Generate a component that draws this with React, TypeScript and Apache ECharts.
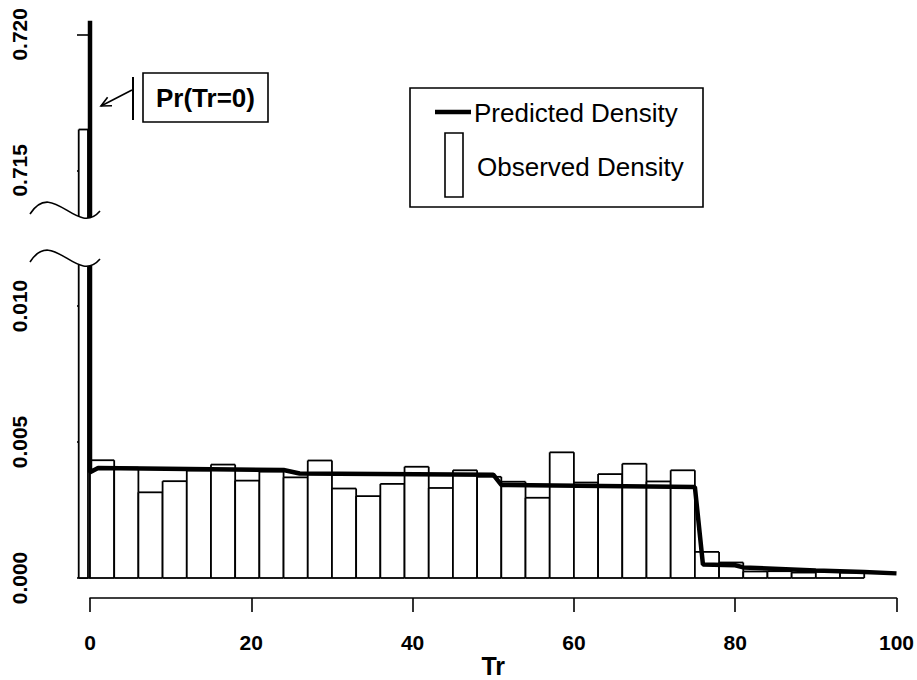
import React, { useEffect, useRef } from "react";
import * as echarts from "echarts";

// ---------------- data ----------------
const binStarts = [0, 3, 6, 9, 12, 15, 18, 21, 24, 27, 30, 33, 36, 39, 42, 45, 48, 51, 54, 57, 60, 63, 66, 69, 72, 75, 78, 81, 84, 87, 90, 93];
const BIN_WIDTH = 3;
const observedDensity = [
  0.00433, 0.00406, 0.00315, 0.00356, 0.00395, 0.00417, 0.00358, 0.00391, 0.0037, 0.00432,
  0.00329, 0.00301, 0.00346, 0.00409, 0.00331, 0.00396, 0.00372, 0.00354, 0.00295, 0.00462,
  0.00351, 0.00382, 0.0042, 0.00355, 0.00396, 0.00096, 0.00057, 0.00024, 0.00025, 0.0002,
  0.00023, 0.0002,
];
// point mass at Tr = 0
const zeroObserved = 0.7165;
const zeroPredicted = 0.7205;
const zeroBarRange = [-1.4, -0.25];
// predicted density curve
const predTr = [0, 0, 1, 24, 26, 50, 51, 75, 76, 80, 81, 90, 96, 100];
const predDensity = [zeroPredicted, 0.00389, 0.00404, 0.00397, 0.00384, 0.0038, 0.00342, 0.00335, 0.0005, 0.00047, 0.00039, 0.00028, 0.00022, 0.00017];
const xTicks = [0, 20, 40, 60, 80, 100];
const topTicks = [0.715, 0.72];
const bottomTicks = [0, 0.005, 0.01];

// ---------------- layout ----------------
const X0_PX = 90;
const PX_PER_TR = 8.065;
const XMIN = -2;
const XMAX = 102;
const GRID_LEFT = X0_PX + XMIN * PX_PER_TR;
const GRID_WIDTH = (XMAX - XMIN) * PX_PER_TR;
const PX_PER_UNIT_Y = 27200;
const Y720_PX = 34.3;
const A_TOP = 18, A_BOTTOM = 218;
const B_TOP = Y720_PX, B_BOTTOM = 205;
const BASE_PX = 578;
const C_MAX = 0.012;
const C_TOP = BASE_PX - C_MAX * PX_PER_UNIT_Y;
const AXIS_X_PX = 48;
const FONT = "'Liberation Sans', Arial, Helvetica, sans-serif";

const valAtPx = (px: number) => 0.72 - (px - Y720_PX) / PX_PER_UNIT_Y;

function histRender(lw: number) {
  return (params: any, api: any) => {
    const x0 = api.value(0), x1 = api.value(1), v = api.value(2);
    const pTop = api.coord([x0, v]);
    const pBot = api.coord([x1, 0]);
    const cs = params.coordSys;
    const left = pTop[0], right = pBot[0];
    let top = pTop[1], bottom = pBot[1];
    const clipTop = top < cs.y - 0.5;
    const clipBottom = bottom > cs.y + cs.height + 0.5;
    top = Math.max(top, cs.y);
    bottom = Math.min(bottom, cs.y + cs.height);
    if (bottom <= top) return null;
    const st = { stroke: "#000", lineWidth: lw };
    const children: any[] = [
      { type: "rect", shape: { x: left, y: top, width: right - left, height: bottom - top }, style: { fill: "#fff" } },
      { type: "line", shape: { x1: left, y1: top, x2: left, y2: bottom }, style: st },
      { type: "line", shape: { x1: right, y1: top, x2: right, y2: bottom }, style: st },
    ];
    if (!clipTop) children.push({ type: "line", shape: { x1: left, y1: top, x2: right, y2: top }, style: st });
    if (!clipBottom) children.push({ type: "line", shape: { x1: left, y1: bottom, x2: right, y2: bottom }, style: st });
    return { type: "group", children };
  };
}

function bez(p: number[][], t: number) {
  const u = 1 - t;
  const a = u * u * u, b = 3 * u * u * t, c = 3 * u * t * t, d = t * t * t;
  return [a * p[0][0] + b * p[1][0] + c * p[2][0] + d * p[3][0], a * p[0][1] + b * p[1][1] + c * p[2][1] + d * p[3][1]];
}

export default function App() {
  const ref = useRef<HTMLDivElement>(null);
  useEffect(() => {
    if (!ref.current) return;
    const chart = echarts.init(ref.current, null, { renderer: "svg" });

    const histData = binStarts.map((s, i) => [s, s + BIN_WIDTH, observedDensity[i]]);
    histData.push([zeroBarRange[0], zeroBarRange[1], zeroObserved]);
    const predData = predTr.map((x, i) => [x, predDensity[i]]);

    const hiddenX = (gi: number) => ({ type: "value", gridIndex: gi, min: XMIN, max: XMAX, show: false });
    const axisLineStyle = { show: true, lineStyle: { color: "#000", width: 1.6 } };
    const tickStyle = { show: true, length: 13, lineStyle: { color: "#000", width: 1.6 } };
    const yLabel = (vals: number[]) => ({
      show: true, rotate: 90, margin: 18, customValues: vals,
      formatter: (v: number) => v.toFixed(3),
      color: "#000", fontSize: 21, fontWeight: "bold", fontFamily: FONT,
    });

    // break waves
    const waveBottom = [[30, 262], [53, 226], [77, 286], [100, 259]];
    const waveTop = [[30, 214], [53, 178], [77, 238], [100, 211]];
    const coverPts = (w: number[][], yEdge: number) => {
      const pts: number[][] = [];
      for (let i = 0; i <= 30; i++) pts.push(bez(w, 0.4 + (0.6 * i) / 30));
      pts.push([pts[pts.length - 1][0] + 2, yEdge]);
      pts.push([pts[0][0], yEdge]);
      return pts;
    };

    // arrow
    const tail = [132, 90], tip = [101, 106];
    const dx = tail[0] - tip[0], dy = tail[1] - tip[1];
    const len = Math.hypot(dx, dy);
    const ux = dx / len, uy = dy / len;
    const barb = (ang: number) => {
      const c = Math.cos(ang), s = Math.sin(ang);
      return [tip[0] + 11 * (ux * c - uy * s), tip[1] + 11 * (ux * s + uy * c)];
    };
    const b1 = barb(0.45), b2 = barb(-0.45);

    const lineSt = { stroke: "#000", lineWidth: 1.6 };

    chart.setOption({
      animation: false,
      backgroundColor: "#fff",
      grid: [
        { left: GRID_LEFT, width: GRID_WIDTH, top: A_TOP, height: A_BOTTOM - A_TOP },
        { left: GRID_LEFT, width: GRID_WIDTH, top: B_TOP, height: B_BOTTOM - B_TOP },
        { left: GRID_LEFT, width: GRID_WIDTH, top: C_TOP, height: BASE_PX - C_TOP },
        { left: X0_PX, width: 100 * PX_PER_TR, top: 590, height: 8 },
      ],
      xAxis: [
        hiddenX(0),
        hiddenX(1),
        hiddenX(2),
        {
          type: "value", gridIndex: 3, min: 0, max: 100, interval: 20, position: "bottom",
          axisLine: axisLineStyle, axisTick: { ...tickStyle, length: 14 }, splitLine: { show: false },
          axisLabel: { margin: 34, color: "#000", fontSize: 21, fontWeight: "bold", fontFamily: FONT, customValues: xTicks },
          name: "Tr", nameLocation: "middle", nameGap: 51,
          nameTextStyle: { color: "#000", fontSize: 25, fontWeight: "bold", fontFamily: FONT },
        },
      ],
      yAxis: [
        { type: "value", gridIndex: 0, min: valAtPx(A_BOTTOM), max: valAtPx(A_TOP), show: false },
        {
          type: "value", gridIndex: 1, min: valAtPx(B_BOTTOM), max: 0.72, position: "left",
          offset: GRID_LEFT - AXIS_X_PX, axisLine: axisLineStyle,
          axisTick: { ...tickStyle, customValues: topTicks }, axisLabel: yLabel(topTicks), splitLine: { show: false },
        },
        {
          type: "value", gridIndex: 2, min: 0, max: C_MAX, position: "left",
          offset: GRID_LEFT - AXIS_X_PX, axisLine: axisLineStyle,
          axisTick: { ...tickStyle, customValues: bottomTicks }, axisLabel: yLabel(bottomTicks), splitLine: { show: false },
        },
        { type: "value", gridIndex: 3, min: 0, max: 1, show: false },
      ],
      series: [
        { name: "Observed Density", type: "custom", xAxisIndex: 0, yAxisIndex: 0, renderItem: histRender(1.8), data: histData, z: 2 },
        { name: "Observed Density", type: "custom", xAxisIndex: 2, yAxisIndex: 2, renderItem: histRender(1.8), data: histData, z: 2 },
        {
          name: "Predicted Density", type: "line", xAxisIndex: 0, yAxisIndex: 0, data: predData, showSymbol: false,
          symbol: "none", clip: true, lineStyle: { color: "#000", width: 4.5 }, z: 5,
        },
        {
          name: "Predicted Density", type: "line", xAxisIndex: 2, yAxisIndex: 2, data: predData, showSymbol: false,
          symbol: "none", clip: true, lineStyle: { color: "#000", width: 4.5 }, z: 5,
        },
        { type: "line", xAxisIndex: 1, yAxisIndex: 1, data: [] },
        { type: "line", xAxisIndex: 3, yAxisIndex: 3, data: [] },
      ],
      graphic: [
        // break covers and waves
        { type: "polygon", z: 100, shape: { points: coverPts(waveBottom, 240) }, style: { fill: "#fff" } },
        { type: "polygon", z: 100, shape: { points: coverPts(waveTop, 228) }, style: { fill: "#fff" } },
        {
          type: "bezierCurve", z: 101,
          shape: { x1: waveBottom[0][0], y1: waveBottom[0][1], cpx1: waveBottom[1][0], cpy1: waveBottom[1][1], cpx2: waveBottom[2][0], cpy2: waveBottom[2][1], x2: waveBottom[3][0], y2: waveBottom[3][1] },
          style: { stroke: "#000", lineWidth: 1.6, fill: null },
        },
        {
          type: "bezierCurve", z: 101,
          shape: { x1: waveTop[0][0], y1: waveTop[0][1], cpx1: waveTop[1][0], cpy1: waveTop[1][1], cpx2: waveTop[2][0], cpy2: waveTop[2][1], x2: waveTop[3][0], y2: waveTop[3][1] },
          style: { stroke: "#000", lineWidth: 1.6, fill: null },
        },
        // annotation Pr(Tr=0)
        { type: "rect", z: 101, shape: { x: 143, y: 73, width: 125, height: 49 }, style: { fill: "#fff", stroke: "#000", lineWidth: 1.6 } },
        {
          type: "text", z: 102, x: 205.5, y: 98,
          style: { text: "Pr(Tr=0)", fill: "#000", font: `bold 26px ${FONT}`, align: "center", verticalAlign: "middle" },
        },
        { type: "line", z: 101, shape: { x1: 133, y1: 77, x2: 133, y2: 120 }, style: { stroke: "#000", lineWidth: 2 } },
        { type: "line", z: 101, shape: { x1: tail[0], y1: tail[1], x2: tip[0], y2: tip[1] }, style: lineSt },
        { type: "polyline", z: 101, shape: { points: [b1, tip, b2] }, style: { stroke: "#000", lineWidth: 1.6, fill: null } },
        // legend
        { type: "rect", z: 101, shape: { x: 410, y: 88, width: 293, height: 119 }, style: { fill: "#fff", stroke: "#000", lineWidth: 1.6 } },
        { type: "line", z: 102, shape: { x1: 435, y1: 112, x2: 471, y2: 112 }, style: { stroke: "#000", lineWidth: 4.5 } },
        {
          type: "text", z: 102, x: 474, y: 113,
          style: { text: "Predicted Density", fill: "#000", font: `26px ${FONT}`, align: "left", verticalAlign: "middle" },
        },
        { type: "rect", z: 102, shape: { x: 445, y: 133, width: 18, height: 64 }, style: { fill: "#fff", stroke: "#000", lineWidth: 1.6 } },
        {
          type: "text", z: 102, x: 477, y: 167,
          style: { text: "Observed Density", fill: "#000", font: `26px ${FONT}`, align: "left", verticalAlign: "middle" },
        },
      ],
    });
    return () => chart.dispose();
  }, []);
  return <div ref={ref} style={{ position: "absolute", left: 0, top: 0, width: 917, height: 680, background: "#fff" }} />;
}
